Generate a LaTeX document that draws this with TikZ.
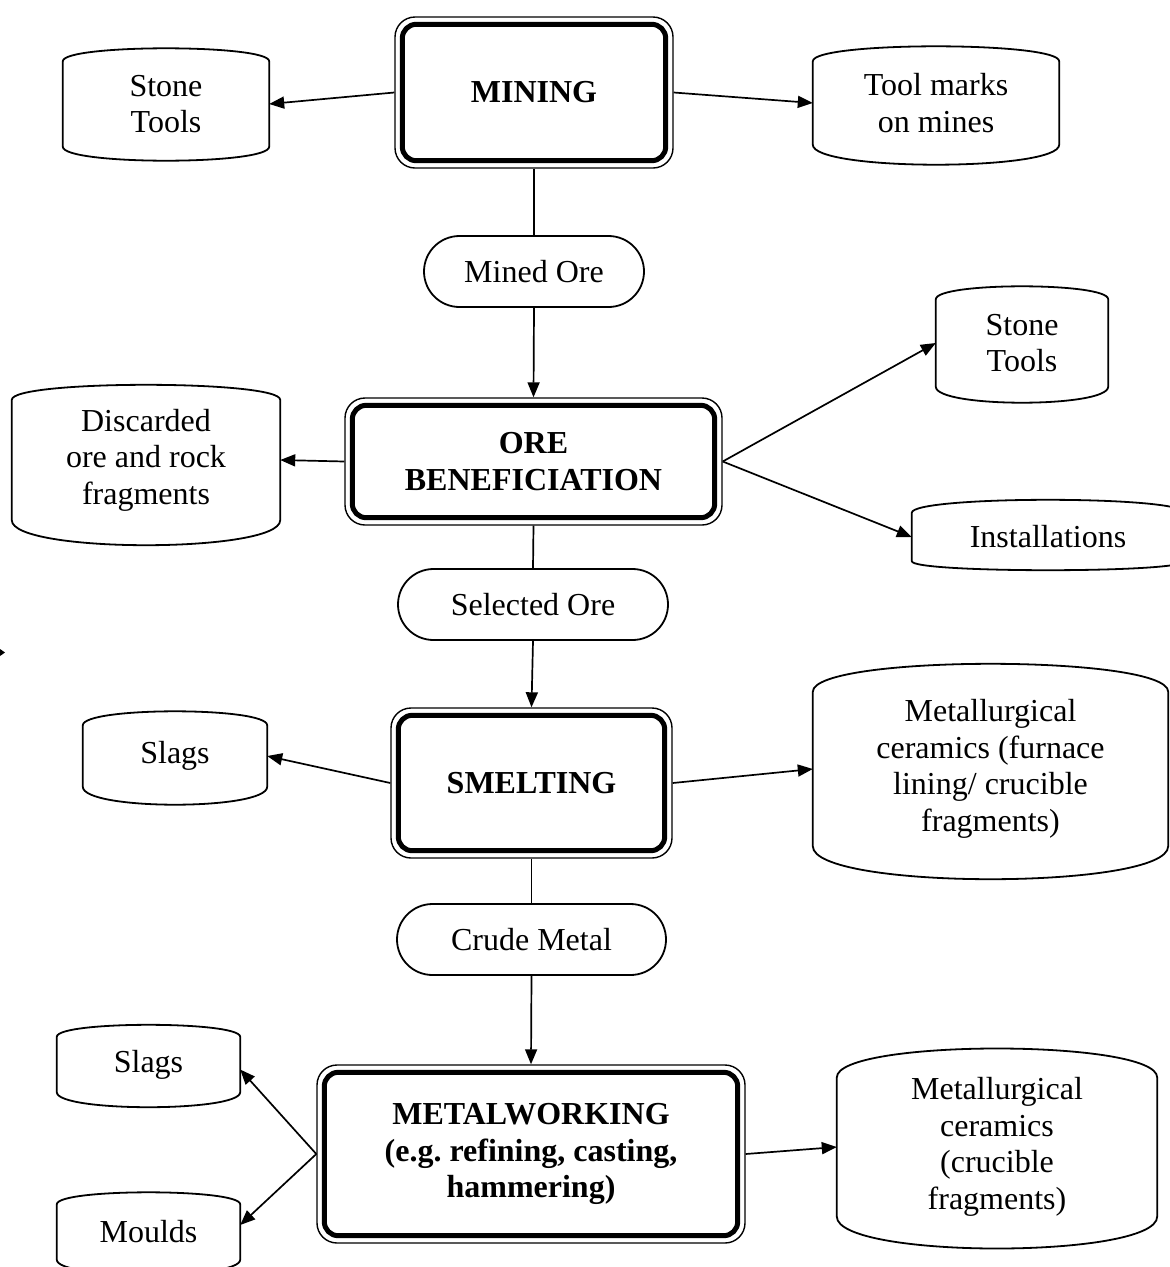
\documentclass[tikz,border=0pt]{standalone}
\usepackage{fontspec}
\setmainfont{Liberation Serif}
\usetikzlibrary{calc,arrows.meta,shapes.misc}
\frenchspacing
\begin{document}
\begin{tikzpicture}[x=1pt,y=1pt,
  txt/.style={font=\fontsize{32}{36.5}\selectfont},
  drum/.style={txt, align=center, inner sep=0pt},
  proc/.style={font=\fontsize{32}{36.5}\selectfont\bfseries, align=center, draw, line width=1.4pt, rounded corners=20pt, inner sep=0pt},
  pill/.style={txt, draw, line width=1.8pt, rounded rectangle, inner sep=0pt},
  arr/.style={line width=1.7pt, -{Triangle[length=15pt,width=12pt]}},
  link/.style={line width=1.7pt},
  drumline/.style={line width=1.8pt, line join=round},
  thickframe/.style={line width=5pt, rounded corners=14pt}]
\useasboundingbox (0,0) rectangle (1170,-1267);

% process boxes
\node[proc, minimum width=278pt, minimum height=151pt] (mining) at (534,-92.5) {MINING};
\node[proc, minimum width=377pt, minimum height=127pt] (ore) at (533.5,-461.5) {ORE\\BENEFICIATION};
\node[proc, minimum width=281pt, minimum height=150pt] (smelt) at (531.5,-783) {SMELTING};
\node[proc, minimum width=428pt, minimum height=178pt] (metal) at (531,-1154) {METALWORKING\\(e.g.\ refining, casting,\\hammering)};
\foreach \n in {mining,ore,smelt,metal}{
  \draw[thickframe] ($(\n.north west)+(8,-8)$) rectangle ($(\n.south east)+(-8,8)$);
}

% intermediate products
\node[pill, minimum width=220pt, minimum height=71pt] (mined) at (534,-271.5) {Mined Ore};
\node[pill, minimum width=270pt, minimum height=71pt] (selected) at (533,-604.5) {Selected Ore};
\node[pill, minimum width=269pt, minimum height=71pt] (crude) at (531.5,-939.5) {Crude Metal};

% drums (evidence)
\node[drum, minimum width=206pt, minimum height=85pt] (st1) at (166,-104) {Stone\\Tools};
\node[drum, minimum width=246pt, minimum height=83pt] (tm) at (936,-103) {Tool marks\\on mines};
\node[drum, minimum width=268pt, minimum height=120pt] (disc) at (146,-460) {Discarded\\ore and rock\\fragments};
\node[drum, minimum width=172pt, minimum height=87pt] (st2) at (1022,-343) {Stone\\Tools};
\node[drum, minimum width=272pt, minimum height=48pt] (inst) at (1048,-537) {Installations};
\node[drum, minimum width=184pt, minimum height=61pt] (slags1) at (175,-756) {Slags};
\node[drum, minimum width=355pt, minimum height=154pt] (mc1) at (990.5,-769) {Metallurgical\\ceramics (furnace\\lining/ crucible\\fragments)};
\node[drum, minimum width=183pt, minimum height=55pt] (slags2) at (148.5,-1064.5) {Slags};
\node[drum, minimum width=183pt, minimum height=55pt] (moulds) at (148.5,-1232) {Moulds};
\node[drum, minimum width=320pt, minimum height=138pt] (mc2) at (997,-1147) {Metallurgical\\ceramics\\(crucible\\fragments)};

\foreach \n/\t/\b in {st1/13/14, tm/15/20, disc/15/25, st2/13/16, inst/13/9, slags1/14/18, mc1/28/33, slags2/12/15, moulds/12/15, mc2/29/32}{
  \draw[drumline] (\n.north west) -- (\n.south west)
    .. controls ($(\n.south west)+(0,{-\b/0.75})$) and ($(\n.south east)+(0,{-\b/0.75})$) .. (\n.south east)
    -- (\n.north east)
    .. controls ($(\n.north east)+(0,{\t/0.75})$) and ($(\n.north west)+(0,{\t/0.75})$) .. cycle;
}

% connectors
\draw[arr] (mining.west) -- (st1.east);
\draw[arr] (mining.east) -- (tm.west);
\draw[link] (mining.south) -- (mined.north);
\draw[arr] (mined.south) -- (ore.north);
\draw[arr] (ore.west) -- (disc.east);
\draw[arr] (ore.east) -- (st2.west);
\draw[arr] (ore.east) -- (inst.west);
\draw[link] (ore.south) -- (selected.north);
\draw[arr] (selected.south) -- (smelt.north);
\draw[arr] (smelt.west) -- (slags1.east);
\draw[arr] (smelt.east) -- (mc1.west);
\draw[link] (smelt.south) -- (crude.north);
\draw[arr] (crude.south) -- (metal.north);
\draw[arr] (metal.west) -- ([yshift=-5pt]slags2.east);
\draw[arr] (metal.west) -- ([yshift=7pt]moulds.east);
\draw[arr] (metal.east) -- (mc2.west);

% stray arrow tip at the left edge
\fill (0,-649) -- (5,-652.5) -- (0,-656) -- cycle;
\end{tikzpicture}
\end{document}
